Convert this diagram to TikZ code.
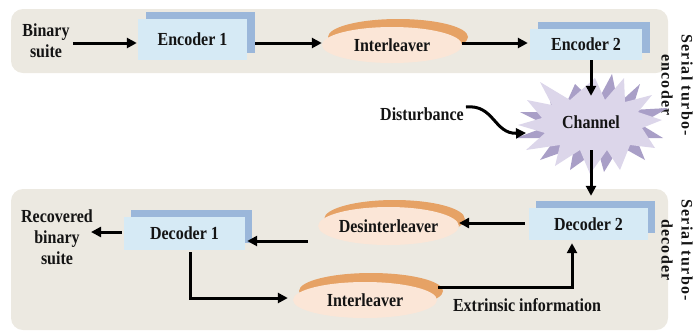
\documentclass[tikz,border=0pt]{standalone}
\usepackage{graphicx}
\usepackage{fontspec}
\setmainfont{Liberation Serif}
\usetikzlibrary{arrows.meta,shadows,shapes.geometric}

\definecolor{panel}{HTML}{ECE9E1}
\definecolor{boxfront}{HTML}{D6EAF5}
\definecolor{boxback}{HTML}{9BB7DA}
\definecolor{ovalfront}{HTML}{FBE6D7}
\definecolor{ovalback}{HTML}{E6A265}
\definecolor{starlight}{HTML}{DCD6EA}
\definecolor{stardark}{HTML}{A99FC7}
\definecolor{ink}{HTML}{141414}

% slightly elongated lettering
\newcommand\tallt[1]{\scalebox{1}[1.15]{#1}}

\begin{document}
\begin{tikzpicture}[x=1pt,y=-1pt,
  font=\fontsize{16}{21}\selectfont\bfseries, text=ink,
  panelbg/.style={fill=panel, rounded corners=12pt},
  block/.style={rectangle, fill=boxfront, inner sep=0pt,
    general shadow={fill=boxback, shadow xshift=#1, shadow yshift=7pt}},
  block/.default=8pt,
  oval/.style={ellipse, fill=ovalfront, inner sep=0pt,
    general shadow={fill=ovalback, shadow xshift=6pt, shadow yshift=#1}},
  oval/.default=8pt,
  label/.style={align=center, inner sep=0pt},
  sidelabel/.style={rotate=-90, align=center, inner sep=0pt,
    font=\fontsize{16}{20}\selectfont\bfseries\addfontfeatures{LetterSpace=8}},
  arr/.style={line width=3pt, draw=black,
    -{Triangle[length=10pt,width=10pt]}},
]
\useasboundingbox (0,0) rectangle (695,333);

% encoder and decoder panels
\fill[panelbg] (11,9) rectangle (668,73);
\fill[panelbg] (11,189) rectangle (668,330);

% encoder chain
\node[label] (binary) at (46,41) {\tallt{Binary}\\\tallt{suite}};
\node[block, minimum width=109pt, minimum height=41pt] (enc1) at (192.5,39.5) {\tallt{Encoder 1}};
\node[oval, minimum width=140pt, minimum height=36pt] (il1) at (392,45) {\tallt{Interleaver}};
\node[block, minimum width=112pt, minimum height=31pt] (enc2) at (586,44.5) {\tallt{Encoder 2}};
\node[sidelabel] (senc) at (677,85) {Serial turbo-\\encoder};

% channel burst: darker spikes behind, light burst in front
\fill[stardark] (575,84) -- (596,104) -- (612,74) -- (618,104) -- (640,84)
  -- (632,110) -- (668,108) -- (640,124) -- (663,138) -- (636,138)
  -- (645,160) -- (620,146) -- (604,172) -- (598,150) -- (570,170)
  -- (574,148) -- (540,160) -- (556,138) -- (516,138) -- (548,126)
  -- (520,112) -- (552,112) -- (548,88) -- (566,104) -- cycle;
\fill[starlight] (595,78) -- (605,100) -- (624,78) -- (625,102) -- (652,95)
  -- (638,112) -- (662,120) -- (642,128) -- (655,148) -- (630,145)
  -- (620,170) -- (607,150) -- (590,174) -- (580,150) -- (555,166)
  -- (560,145) -- (526,150) -- (545,133) -- (518,125) -- (542,118)
  -- (527,100) -- (552,105) -- (540,82) -- (570,100) -- cycle;
\node[label, minimum height=52pt] (chan) at (591,122) {\tallt{Channel}};
\node[label] (dist) at (422,114) {\tallt{Disturbance}};
\coordinate (distend) at (526,133);

% decoder chain
\node[block=7pt, minimum width=119pt, minimum height=32pt] (dec2) at (588.5,224) {\tallt{Decoder 2}};
\node[oval=7pt, minimum width=137pt, minimum height=38pt] (desil) at (388.5,226) {\tallt{Desinterleaver}};
\node[block=7pt, minimum width=121pt, minimum height=33pt] (dec1) at (184.5,233.5) {\tallt{Decoder 1}};
\node[label] (rec) at (57,237) {\tallt{Recovered}\\\tallt{binary}\\\tallt{suite}};
\node[oval=9pt, minimum width=144pt, minimum height=36pt] (il2) at (365,300) {\tallt{Interleaver}};
\node[label] (extr) at (527,305) {\tallt{Extrinsic information}};
\node[sidelabel] (sdec) at (677,250) {Serial turbo-\\decoder};

% connectors
\draw[arr] ([xshift=3pt]binary.east |- 0,43) -- ([xshift=-1pt]enc1.west |- 0,43);
\draw[arr] ([xshift=8pt]enc1.east |- 0,43) -- (il1.west |- 0,43);
\draw[arr] (il1.east |- 0,43) -- ([xshift=-2pt]enc2.west |- 0,43);
\draw[arr] (enc2.south -| chan.north) -- (chan.north);
\draw[arr] ([xshift=2pt,yshift=7pt]dist.east) .. controls (494,104) and (494,134) .. (distend);
\draw[arr] ([yshift=-2pt]chan.south) -- ([yshift=12pt]dec2.north -| chan.south);
\draw[arr] ([xshift=-4pt]dec2.west |- 0,223) -- (desil.east |- 0,223);
\draw[arr] ([xshift=-10pt]desil.west |- 0,241) -- ([xshift=2pt]dec1.east |- 0,241);
\draw[arr] ([xshift=-2pt]dec1.west |- 0,232) -- ([xshift=-2pt]rec.east |- 0,232);
\draw[arr] ([yshift=-2pt,xshift=5.5pt]dec1.south) |- ([xshift=-5pt]il2.west |- 0,298);
\draw[arr] ([xshift=1pt]il2.east |- 0,287) -| ([yshift=-3pt]dec2.south -| 572,0);
\end{tikzpicture}
\end{document}
